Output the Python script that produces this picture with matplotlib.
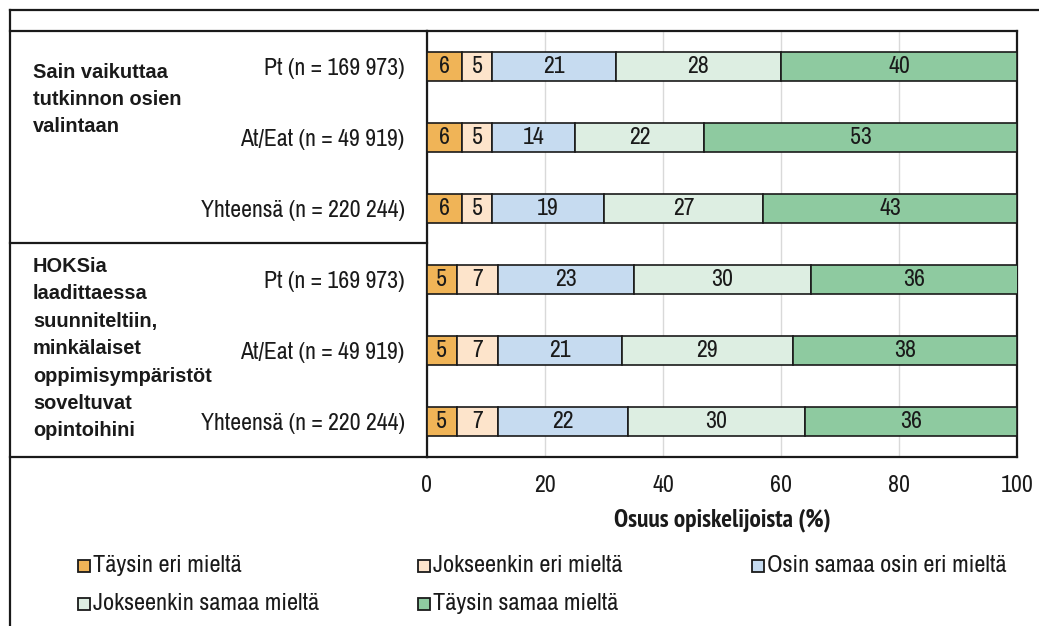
import matplotlib
matplotlib.use("Agg")
import matplotlib.pyplot as plt
from matplotlib.lines import Line2D
from matplotlib.patches import Rectangle

NARROW = "Archivo Narrow"
NARROW_BOLD = "PT Sans Narrow"
BOLD = "Liberation Sans"

groups = ["Sain vaikuttaa\ntutkinnon osien\nvalintaan",
          "HOKSia\nlaadittaessa\nsuunniteltiin,\nminkälaiset\noppimisympäristöt\nsoveltuvat\nopintoihini"]
rows = ["Pt (n = 169 973)", "At/Eat (n = 49 919)", "Yhteensä (n = 220 244)",
        "Pt (n = 169 973)", "At/Eat (n = 49 919)", "Yhteensä (n = 220 244)"]
series = ["Täysin eri mieltä", "Jokseenkin eri mieltä", "Osin samaa osin eri mieltä",
          "Jokseenkin samaa mieltä", "Täysin samaa mieltä"]
taysin_eri = [6, 6, 6, 5, 5, 5]
jokseenkin_eri = [5, 5, 5, 7, 7, 7]
osin = [21, 14, 19, 23, 21, 22]
jokseenkin_samaa = [28, 22, 27, 30, 29, 30]
taysin_samaa = [40, 53, 43, 36, 38, 36]
colors = ["#F0B457", "#FDE4CB", "#C6DBF0", "#DDEEE2", "#8ECAA0"]
xticks = [0, 20, 40, 60, 80, 100]

W, H = 1039, 626
fig = plt.figure(figsize=(W / 100, H / 100), dpi=100)
renderer = fig.canvas.get_renderer()


def fx(px):
    return px / W


def fy(py):
    return 1 - py / H


def fit_size(text, family, weight, width_px, base=16.0):
    """Font size at which `text` is about `width_px` pixels wide."""
    t = fig.text(0, 0, text, fontsize=base, family=family, fontweight=weight)
    w = t.get_window_extent(renderer).width
    t.remove()
    return base * width_px / w


fs_lab = fit_size("Yhteensä (n = 220 244)", NARROW, "normal", 205)
fs_grp = fit_size("Sain vaikuttaa", BOLD, "bold", 134)
fs_xl = fit_size("Osuus opiskelijoista (%)", NARROW_BOLD, "bold", 218)
fs_leg = fit_size("Täysin eri mieltä", NARROW, "normal", 149)

x0, x1, y0, y1 = 427, 1017, 31, 457
ax = fig.add_axes([fx(x0), fy(y1), fx(x1 - x0), fy(y0) - fy(y1)])

values = [taysin_eri, jokseenkin_eri, osin, jokseenkin_samaa, taysin_samaa]
ypos = list(range(len(rows)))
left = [0] * len(rows)
for vals, col, name in zip(values, colors, series):
    bars = ax.barh(ypos, vals, left=left, height=0.4, color=col,
                   edgecolor="#1a1a1a", linewidth=1.2, label=name, zorder=3)
    ax.bar_label(bars, labels=[str(v) for v in vals], label_type="center",
                 fontsize=fs_lab, family=NARROW, color="#1a1a1a")
    left = [l + v for l, v in zip(left, vals)]

ax.set_xlim(0, 100)
ax.set_ylim(len(rows) - 0.5, -0.5)
ax.set_xticks(xticks)
ax.set_xticklabels([str(t) for t in xticks], fontsize=fs_lab, family=NARROW)
ax.set_yticks(ypos)
ax.set_yticklabels(rows, fontsize=fs_lab, family=NARROW)
ax.tick_params(axis="both", length=0, colors="#1a1a1a")
ax.tick_params(axis="x", pad=13)
ax.tick_params(axis="y", pad=16)
ax.grid(axis="x", color="#d9d9d9", linewidth=1, zorder=0)
for s in ax.spines.values():
    s.set_linewidth(1.6)
    s.set_color("#1a1a1a")
ax.set_xlabel("Osuus opiskelijoista (%)", fontsize=fs_xl, family=NARROW_BOLD,
              fontweight="bold", labelpad=9, color="#1a1a1a")

# table-like frame around the labels
lw = 1.6


def hline(y, xa, xb):
    fig.add_artist(Line2D([fx(xa), fx(xb)], [fy(y), fy(y)], color="#1a1a1a", lw=lw))


def vline(x, ya, yb):
    fig.add_artist(Line2D([fx(x), fx(x)], [fy(ya), fy(yb)], color="#1a1a1a", lw=lw))


hline(10, 10, 1039)
vline(10, 10, 626)
hline(y0, 10, x0)
hline(y1, 10, x0)
hline(243, 10, x0)

fig.text(fx(33), fy(63), groups[0], ha="left", va="top", fontsize=fs_grp,
         fontweight="bold", family=BOLD, linespacing=1.53, color="#1a1a1a")
fig.text(fx(33), fy(257), groups[1], ha="left", va="top", fontsize=fs_grp,
         fontweight="bold", family=BOLD, linespacing=1.56, color="#1a1a1a")

leg_pos = [(78, 566), (418, 566), (752, 566), (78, 604), (418, 604)]
for col, name, (lx, ly) in zip(colors, series, leg_pos):
    fig.patches.append(Rectangle((fx(lx), fy(ly + 6)), fx(12), fy(0) - fy(12),
                                 transform=fig.transFigure, facecolor=col,
                                 edgecolor="#1a1a1a", linewidth=1.3))
    fig.text(fx(lx + 15), fy(ly), name, ha="left", va="center", fontsize=fs_leg,
             family=NARROW, color="#1a1a1a")

fig.savefig("out.png", dpi=100, facecolor="white")
